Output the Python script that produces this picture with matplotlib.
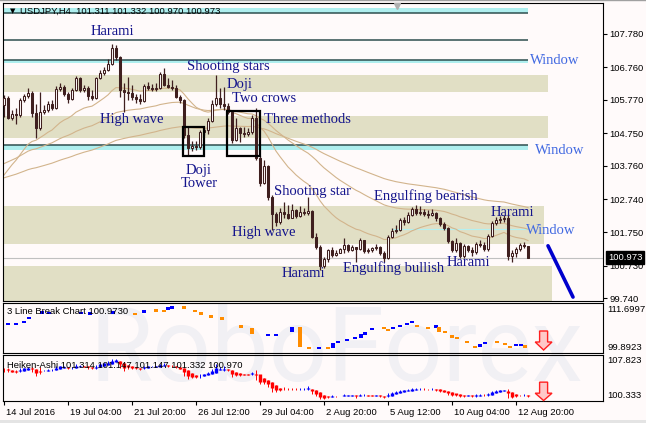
import numpy as np
import matplotlib
matplotlib.use("Agg")
import matplotlib.pyplot as plt
import matplotlib.transforms as mtransforms
from matplotlib.patches import Rectangle, Polygon

plt.rcParams["font.family"] = ["Liberation Sans", "DejaVu Sans"]

# ---- USDJPY H4 candles (first open, then close/high/low per bar) ----
first_open = 105.62
closes = [
    105.83, 105.22, 105.34, 105.31, 105.77, 105.89, 105.98, 105.37, 104.92, 105.41,
    105.47, 105.65, 105.53, 106.11, 106.17, 105.95, 105.80, 106.08, 106.44, 106.08,
    106.14, 105.89, 105.83, 106.44, 106.59, 106.68, 106.87, 107.35, 107.08, 106.08,
    106.01, 105.98, 105.86, 105.80, 105.74, 106.20, 106.14, 106.11, 106.13, 106.56,
    106.23, 106.17, 106.14, 105.86, 105.77, 104.71, 104.31, 104.37, 104.34, 104.80,
    104.86, 105.13, 105.65, 105.83, 105.65, 105.59, 105.41, 104.55, 104.92, 104.77,
    104.74, 104.80, 105.22, 104.00, 103.24, 103.76, 102.82, 102.30, 102.06, 102.36,
    102.30, 102.18, 102.42, 102.24, 102.36, 102.33, 102.39, 101.60, 101.29, 100.72,
    100.93, 101.20, 101.05, 101.11, 101.23, 101.36, 101.20, 101.29, 101.23, 101.51,
    101.17, 101.20, 101.26, 101.29, 101.11, 100.96, 101.60, 101.78, 101.81, 102.12,
    102.06, 102.27, 102.45, 102.33, 102.36, 102.30, 102.27, 102.33, 102.18, 101.99,
    101.87, 101.48, 101.20, 101.42, 101.02, 101.33, 101.20, 101.14, 101.39, 101.36,
    101.23, 101.63, 102.02, 102.12, 102.15, 102.18, 101.02, 101.11, 101.23, 101.36,
    101.311, 100.973,
]
highs = [
    105.92, 105.89, 105.47, 105.53, 105.83, 105.95, 106.14, 106.04, 105.65, 106.01,
    105.62, 105.74, 105.77, 106.20, 106.29, 106.23, 106.01, 106.14, 106.50, 106.47,
    106.23, 106.20, 106.08, 106.47, 106.68, 106.78, 107.02, 107.48, 107.45, 107.11,
    106.29, 106.47, 106.23, 105.95, 105.95, 106.26, 106.32, 106.26, 106.29, 106.62,
    106.74, 106.44, 106.38, 106.23, 105.92, 105.80, 104.95, 104.52, 104.52, 104.86,
    104.92, 105.22, 105.77, 106.53, 106.14, 106.17, 105.68, 105.47, 105.22, 104.95,
    104.95, 104.92, 105.31, 105.53, 104.07, 103.94, 103.79, 102.88, 102.36, 102.48,
    102.67, 102.57, 102.60, 102.45, 102.54, 102.48, 102.82, 102.42, 101.72, 101.36,
    100.99, 101.23, 101.29, 101.20, 101.26, 101.57, 101.39, 101.36, 101.29, 101.57,
    101.33, 101.26, 101.29, 101.39, 101.33, 101.17, 101.66, 101.87, 101.96, 102.18,
    102.21, 102.36, 102.51, 102.57, 102.54, 102.45, 102.42, 102.45, 102.36, 102.21,
    102.06, 101.90, 101.51, 101.57, 101.45, 101.39, 101.36, 101.29, 101.45, 101.51,
    101.45, 101.69, 102.09, 102.21, 102.24, 102.27, 102.30, 101.20, 101.29, 101.42,
    101.45, 101.332,
]
lows = [
    105.25, 105.19, 105.16, 105.04, 105.25, 105.71, 105.83, 105.25, 104.61, 104.86,
    105.34, 105.41, 105.47, 105.50, 106.04, 105.89, 105.68, 105.77, 106.04, 106.01,
    106.01, 105.77, 105.77, 105.80, 106.41, 106.53, 106.65, 106.84, 106.99, 105.86,
    105.41, 105.77, 105.77, 105.68, 105.65, 105.71, 106.08, 106.04, 106.04, 106.11,
    106.20, 106.14, 106.08, 105.83, 105.68, 104.61, 104.10, 104.22, 104.25, 104.28,
    104.71, 104.74, 105.10, 105.59, 105.53, 105.47, 105.34, 104.46, 104.52, 104.49,
    104.64, 104.68, 104.74, 103.94, 103.15, 103.21, 102.73, 101.81, 101.93, 101.99,
    102.18, 102.15, 102.18, 102.18, 102.21, 102.27, 102.27, 101.57, 101.23, 100.59,
    100.65, 100.84, 100.99, 101.02, 101.11, 101.11, 101.14, 101.17, 100.84, 101.20,
    101.11, 101.11, 101.14, 101.20, 101.05, 100.84, 100.93, 101.57, 101.72, 101.78,
    101.96, 102.02, 102.24, 102.27, 102.27, 102.24, 102.18, 102.24, 102.09, 101.93,
    101.81, 101.42, 101.14, 101.14, 100.96, 100.96, 101.14, 101.02, 101.08, 101.29,
    101.17, 101.17, 101.60, 101.96, 102.02, 102.06, 100.90, 100.84, 100.99, 101.17,
    101.26, 100.970,
]

# moving averages: period and value at the left edge of the chart
ma_periods = [21, 50, 100]
ma_seeds = [103.25, 103.75, 103.35]

price_ticks = [107.780, 106.760, 105.770, 104.750, 103.760, 102.740, 101.750, 100.730, 99.740]

# drawn levels
dark_levels = [108.43, 107.60, 106.97, 104.40]
cyan_zones = [(108.43, 108.57), (106.90, 106.97), (104.25, 104.40)]
tan_zones = [(106.01, 106.53, 135.9), (104.61, 105.28, 135.9),
             (101.39, 102.54, 135.0), (99.0, 100.72, 136.9)]
thin_window = (97, 131, 101.84)
trend_x = [136.0, 142.25]
trend_y = [101.33, 99.77]
pattern_boxes = [(44.75, 104.07, 50.0, 104.95), (55.75, 104.07, 64.0, 105.44)]

annotations = [
    ("Harami", 27.0, 107.84), ("Shooting stars", 56.0, 106.78), ("Doji", 59.0, 106.23),
    ("Two crows", 65.0, 105.80), ("High wave", 32.0, 105.16), ("Three methods", 75.75, 105.16),
    ("Doji", 48.75, 103.62), ("Tower", 48.75, 103.22), ("Shooting star", 77.0, 102.99),
    ("Engulfing bearish", 105.5, 102.85), ("High wave", 65.0, 101.72), ("Harami", 127.0, 102.33),
    ("Harami", 74.75, 100.50), ("Engulfing bullish", 97.5, 100.65), ("Harami", 116.0, 100.81),
]
window_labels = [(131.5, 106.97), (132.75, 104.22), (130.5, 101.81)]

# ---- 3 Line Break bricks ----
lb_pos = [1, 3, 5, 6.25, 9.5, 11.25, 19.25, 21.5, 27.25, 32.75, 35, 38, 40, 41, 42, 45,
          47.75, 49.25, 51.75, 54.5, 59.25, 62, 66, 68, 72, 74, 76.25, 78.75, 81, 82.25,
          83.5, 85.75, 87.75, 89.25, 90.25, 92, 95, 96, 97.25, 99, 100.75, 102, 103.25,
          106, 108, 108.75, 110.25, 112, 113.25, 115.75, 117.75, 119, 120.25, 123.25,
          125.25, 126.5, 128, 129.25, 130.25]
lb_low = [106.51, 106.51, 106.98, 107.92, 109.34, 109.34, 109.34, 109.10, 109.34, 109.10,
          109.58, 109.81, 109.58, 110.28, 110.52, 110.52, 109.58, 109.10, 108.39, 107.92,
          106.03, 104.38, 104.14, 104.14, 104.85, 101.31, 101.08, 100.84, 101.08, 101.08,
          102.49, 102.96, 103.44, 103.44, 104.14, 105.33, 105.80, 105.09, 105.56, 106.27,
          106.74, 107.21, 106.03, 105.80, 106.03, 104.85, 104.85, 103.44, 103.44, 102.49,
          101.31, 101.31, 102.25, 102.49, 102.02, 101.31, 101.55, 101.78, 101.08]
lb_high = [106.98, 106.98, 107.45, 108.39, 109.58, 109.34, 109.34, 109.34, 109.58, 109.10,
           109.81, 110.05, 110.05, 110.52, 110.76, 110.76, 110.05, 109.34, 108.63, 108.16,
           106.27, 105.80, 104.14, 104.14, 106.03, 106.03, 101.08, 101.31, 101.08, 102.25,
           102.49, 102.96, 103.44, 104.38, 104.85, 105.80, 105.80, 105.56, 106.03, 106.27,
           106.74, 107.21, 106.51, 105.80, 106.27, 106.03, 104.85, 104.14, 103.44, 102.49,
           101.31, 102.02, 102.25, 102.49, 102.02, 101.31, 102.02, 101.78, 101.78]
lb_up = [1, 1, 1, 1, 1, 1, 1, 1, 1, 0, 1, 0, 0, 1, 1, 0, 0, 0, 0, 0, 0, 0, 1, 1, 1, 0, 0, 1,
         0, 1, 1, 1, 1, 1, 1, 1, 0, 0, 1, 1, 1, 1, 0, 0, 1, 0, 0, 0, 0, 0, 0, 1, 1, 0, 0, 0,
         1, 1, 0]

date_pos = [0, 16, 32, 48, 64, 80, 96, 112, 128]
date_labels = ["14 Jul 2016", "19 Jul 04:00", "21 Jul 20:00", "26 Jul 12:00", "29 Jul 04:00",
               "2 Aug 20:00", "5 Aug 12:00", "10 Aug 04:00", "12 Aug 20:00"]

BG = "#fffafa"
CANDLE = "#3f1f1f"
TAN = "#e1dfc5"
CYAN = "#aeeeee"
DARK = "#2f4f4f"
MA_COL = "#d2b48c"
NAVY = "#14148c"
ROYAL = "#4169e1"
FS = 6.8

fig = plt.figure(figsize=(6.46, 4.23), dpi=100, facecolor=BG)
W, H = 646, 423


def px_axes(x0, y0, x1, y1):
    return fig.add_axes([x0 / W, 1 - y1 / H, (x1 - x0) / W, (y1 - y0) / H])


ax = px_axes(3, 3, 603, 301)
ax_lb = px_axes(3, 303, 603, 353)
ax_ha = px_axes(3, 355, 603, 401)

c = np.array(closes)
o = np.r_[first_open, c[:-1]]
h = np.maximum(np.array(highs), np.maximum(o, c))
l = np.minimum(np.array(lows), np.minimum(o, c))
n = len(c)
idx = np.arange(n)

# ---- main chart ----
ax.set_facecolor(BG)
for lo, hi, right in tan_zones:
    ax.add_patch(Rectangle((-1, lo), right + 1, hi - lo, fc=TAN, ec="none", zorder=0))
for lo, hi in cyan_zones:
    ax.add_patch(Rectangle((-1, lo), 132, hi - lo, fc=CYAN, ec="none", zorder=0.5))
ax.hlines(dark_levels, -1, 131, color=DARK, lw=1.1, zorder=1)
ax.hlines(thin_window[2], thin_window[0], thin_window[1], color="#b4f0f0", lw=0.8, zorder=1)
ax.axhline(c[-1], color="#c0c0c0", lw=0.8, zorder=1)


def ema(values, period, seed):
    k = 2.0 / (period + 1)
    out, prev = [], seed
    for v in values:
        prev = prev + k * (v - prev)
        out.append(prev)
    return np.array(out)


for period, seed in zip(ma_periods, ma_seeds):
    ax.plot(idx, ema(c, period, seed), color=MA_COL, lw=0.8, zorder=2)

up = c >= o
ax.vlines(idx, l, h, color=CANDLE, lw=0.9, zorder=3)
ax.bar(idx, np.maximum(np.abs(c - o), 0.015), bottom=np.minimum(o, c), width=0.68,
       color=np.where(up, BG, CANDLE), edgecolor=CANDLE, linewidth=0.75, zorder=4)

for x0, y0, x1, y1 in pattern_boxes:
    ax.add_patch(Rectangle((x0, y0), x1 - x0, y1 - y0, fill=False, ec="black", lw=1.6, zorder=5))

ax.plot(trend_x, trend_y, color="#0000cd", lw=2.6, solid_capstyle="round", zorder=5)

for label, x, y in annotations:
    ax.text(x, y, label, ha="center", va="center", fontsize=10.5, color=NAVY,
            family=["Liberation Serif", "DejaVu Serif"], zorder=6)
for x, y in window_labels:
    ax.text(x, y, "Window", ha="left", va="center", fontsize=10.5, color=ROYAL,
            family=["Liberation Serif", "DejaVu Serif"], zorder=6)

ax.text(0.0117, 0.973, "\u25bc", transform=ax.transAxes, fontsize=5, va="center",
        ha="left", family=["DejaVu Sans"], zorder=7)
ax.text(0.028, 0.973, "USDJPY,H4  101.311 101.332 100.970 100.973", transform=ax.transAxes,
        fontsize=FS, va="center", ha="left", zorder=7)
ax.plot([0.657], [0.99], marker="v", ms=5, color="#b0b0b0", transform=ax.transAxes,
        clip_on=False, zorder=7)

ax.set_xlim(-0.25, 149.75)
ax.set_ylim(99.65, 108.72)
ax.set_xticks([])
ax.yaxis.tick_right()
ax.set_yticks(price_ticks)
ax.set_yticklabels([f"{v:.3f}" for v in price_ticks])
ax.tick_params(axis="y", direction="out", length=3, width=0.8, pad=1.5, labelsize=FS)
trans_price = mtransforms.blended_transform_factory(ax.transAxes, ax.transData)
ax.text(1.008, c[-1], f"{c[-1]:.3f}", transform=trans_price, color="white", fontsize=FS,
        va="center", ha="left", clip_on=False, zorder=10,
        bbox=dict(boxstyle="square,pad=0.18", fc="black", ec="black"))

# ---- 3 Line Break ----
ax_lb.set_facecolor("none")
lb_lo = np.array(lb_low)
lb_hi = np.array(lb_high)
heights = np.maximum(lb_hi - lb_lo, 0.5)
bottoms = (lb_lo + lb_hi) / 2 - heights / 2
ax_lb.bar(lb_pos, heights, bottom=bottoms, width=1.15, linewidth=0,
          color=["#0000ff" if u else "#ff8c00" for u in lb_up], zorder=3)
ax_lb.set_xlim(-0.25, 149.75)
ax_lb.set_ylim(99.8923, 111.6997)
ax_lb.set_xticks([])
ax_lb.set_yticks([])
ax_lb.text(0.0067, 0.82, "3 Line Break Chart 100.9730", transform=ax_lb.transAxes,
           fontsize=FS, va="center", ha="left", zorder=6)
ax_lb.text(1.0067, 0.86, "111.6997", transform=ax_lb.transAxes, fontsize=FS, va="center")
ax_lb.text(1.0067, 0.12, "99.8923", transform=ax_lb.transAxes, fontsize=FS, va="center")

# ---- Heiken-Ashi ----
ax_ha.set_facecolor("none")
ha_c = (o + h + l + c) / 4
ha_o = np.empty(n)
ha_o[0] = (o[0] + c[0]) / 2
for i in range(1, n):
    ha_o[i] = (ha_o[i - 1] + ha_c[i - 1]) / 2
ha_h = np.maximum.reduce([h, ha_o, ha_c])
ha_l = np.minimum.reduce([l, ha_o, ha_c])
ha_col = np.where(ha_c >= ha_o, "#0000ff", "#ff0000")
ax_ha.vlines(idx, ha_l, ha_h, colors=ha_col, lw=0.7, zorder=3)
ax_ha.vlines(idx, np.minimum(ha_o, ha_c), np.maximum(ha_o, ha_c) + 0.02, colors=ha_col,
             lw=2.4, zorder=3)
ax_ha.set_xlim(-0.25, 149.75)
ax_ha.set_ylim(100.333, 108.1)
ax_ha.set_yticks([])
ax_ha.text(0.0067, 0.78, "Heiken-Ashi 101.314 101.147 101.147 101.332 100.970",
           transform=ax_ha.transAxes, fontsize=FS, va="center", ha="left", zorder=6)
ax_ha.text(1.0067, 0.87, "107.823", transform=ax_ha.transAxes, fontsize=FS, va="center")
ax_ha.text(1.0067, 0.13, "100.333", transform=ax_ha.transAxes, fontsize=FS, va="center")
ax_ha.set_xticks(date_pos)
ax_ha.set_xticklabels(date_labels)
ax_ha.tick_params(axis="x", direction="out", length=3, width=0.8, pad=2, labelsize=FS)
shift = mtransforms.ScaledTranslation(1.5 / 100, 0, fig.dpi_scale_trans)
for lab in ax_ha.get_xticklabels():
    lab.set_ha("left")
    lab.set_transform(lab.get_transform() + shift)

# signal arrows
arrow_x = 134.9
for a, (top, sb, tip) in ((ax_lb, (0.44, 0.22, 0.06)), (ax_ha, (0.41, 0.17, 0.01))):
    tr = mtransforms.blended_transform_factory(a.transData, a.transAxes)
    pts = [(arrow_x - 1.0, top), (arrow_x + 1.0, top), (arrow_x + 1.0, sb), (arrow_x + 2.1, sb),
           (arrow_x, tip), (arrow_x - 2.1, sb), (arrow_x - 1.0, sb)]
    a.add_patch(Polygon(pts, closed=True, fc="#ffc8c8", ec="#ff2020", lw=1.0,
                        transform=tr, zorder=5, clip_on=False))

for a in (ax, ax_lb, ax_ha):
    for sp in a.spines.values():
        sp.set_color("black")
        sp.set_linewidth(0.8)

# watermark behind the indicator windows
fig.text(90 / W, 1 - 352 / H, "RoboForex", fontsize=74, color="#f1f0f4", family=["Roboto"],
         va="center", ha="left", zorder=-1)
fig.add_artist(plt.Line2D([0, 1], [1 - 0.5 / H, 1 - 0.5 / H], color="#a0a0a0", lw=1,
                          transform=fig.transFigure))
fig.add_artist(Rectangle((0, 0), 1, 3 / H, transform=fig.transFigure, fc="#e4e4e4",
                         ec="none", zorder=-2))

fig.savefig("out.png", dpi=100, facecolor=BG)
